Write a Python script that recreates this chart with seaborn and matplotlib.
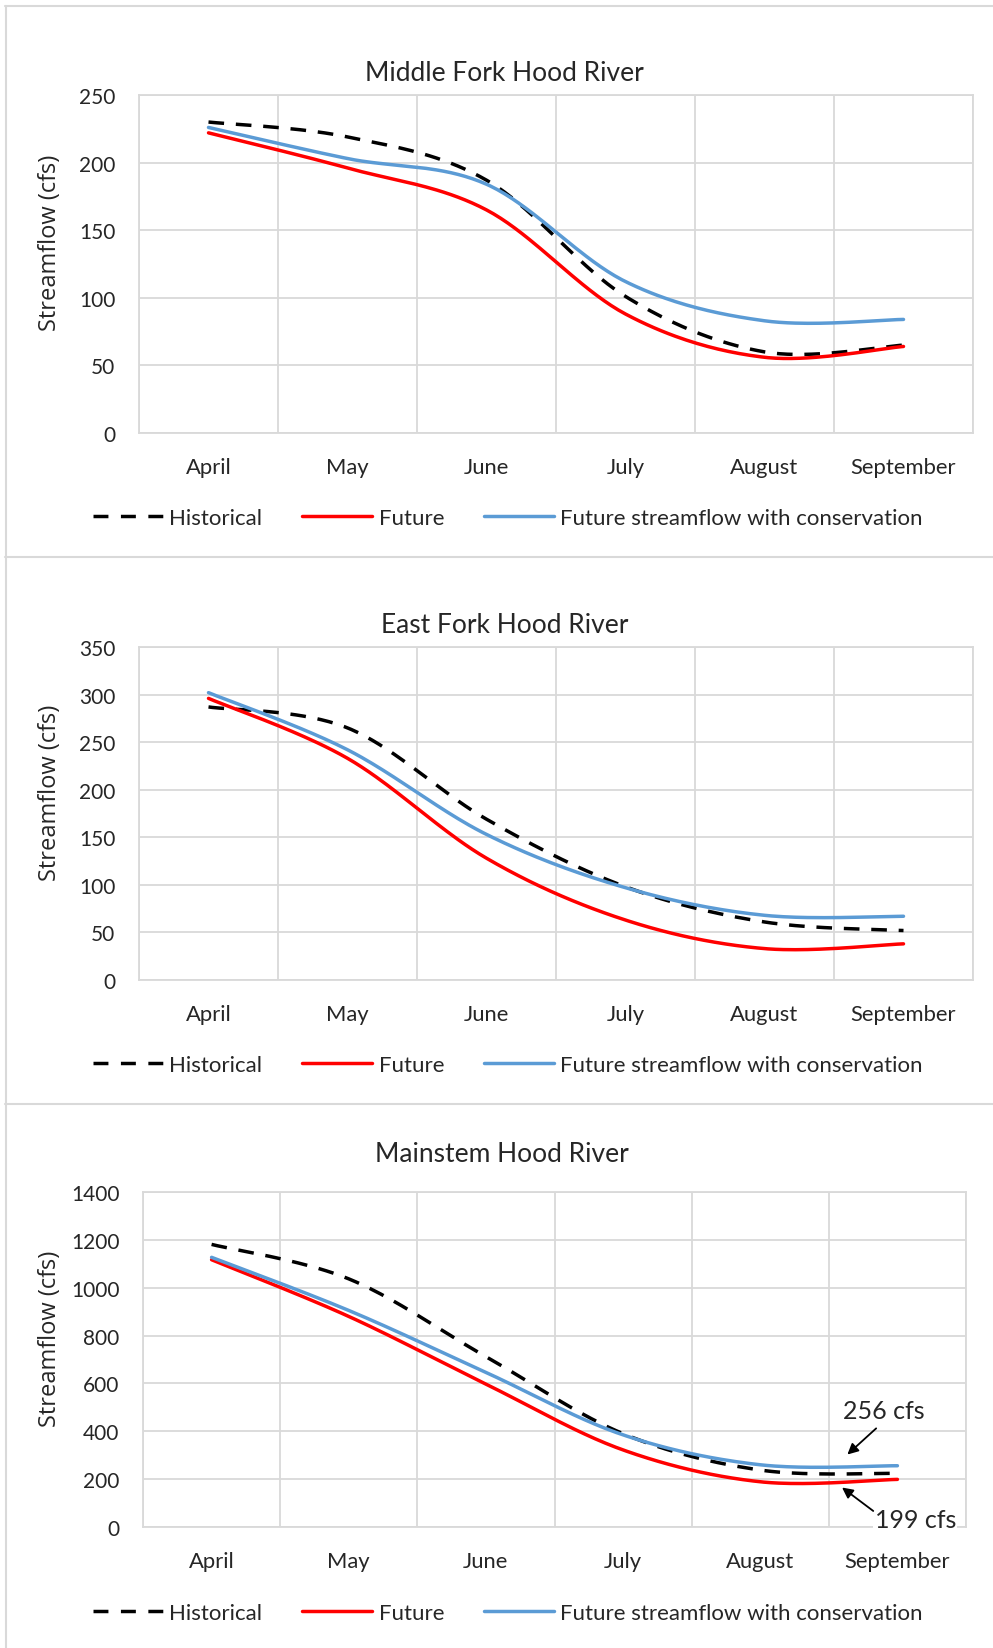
import numpy as np
import pandas as pd
import matplotlib.pyplot as plt
import seaborn as sns
from matplotlib.lines import Line2D

sns.set_style('white')
plt.rcParams['font.family'] = ['Lato', 'DejaVu Sans']

months = ['April', 'May', 'June', 'July', 'August', 'September']
series_names = ['Historical', 'Future', 'Future streamflow with conservation']

middle_hist = [230, 219, 187, 101, 60, 65]
middle_future = [222, 196, 165, 88, 56, 64]
middle_cons = [226, 203, 184, 112, 83, 84]

east_hist = [287, 265, 169, 98, 61, 52]
east_future = [296, 233, 128, 63, 33, 38]
east_cons = [302, 242, 153, 97, 68, 67]

main_hist = [1181, 1037, 712, 390, 238, 224]
main_future = [1117, 880, 597, 322, 189, 199]
main_cons = [1127, 905, 646, 385, 260, 256]

palette = {'Historical': 'black', 'Future': '#FF0000',
           'Future streamflow with conservation': '#5B9BD5'}
dashes = {'Historical': (4.5, 3.4), 'Future': '',
          'Future streamflow with conservation': ''}
GRID = '#D9D9D9'
W, H = 993, 1649


def smooth(values, n=40):
    """Excel style smoothed line (bezier through the monthly points)"""
    x = np.arange(len(values), dtype=float)
    y = np.asarray(values, dtype=float)
    pts = np.column_stack([x, y])
    pts = np.vstack([pts[0], pts, pts[-1]])
    t = np.linspace(0, 1, n)[:, None]
    out = []
    for i in range(len(values) - 1):
        p0, p3 = pts[i + 1], pts[i + 2]
        c1 = p0 + (pts[i + 2] - pts[i]) / 6
        c2 = p3 - (pts[i + 3] - pts[i + 1]) / 6
        seg = ((1 - t) ** 3) * p0 + 3 * ((1 - t) ** 2) * t * c1 + 3 * (1 - t) * t ** 2 * c2 + t ** 3 * p3
        out.append(seg if i == 0 else seg[1:])
    out = np.vstack(out)
    return out[:, 0], out[:, 1]


def draw_panel(rect, title, hist, future, cons, ymax, ystep, label_x, title_x, title_pad):
    ax = fig.add_axes(rect)
    frames = []
    for name, vals in zip(series_names, [hist, future, cons]):
        xs, ys = smooth(vals)
        frames.append(pd.DataFrame({'x': xs, 'y': ys, 'series': name}))
    df = pd.concat(frames, ignore_index=True)
    sns.lineplot(data=df, x='x', y='y', hue='series', style='series',
                 palette=palette, dashes=dashes, sort=False, estimator=None,
                 linewidth=2.5, legend=False, ax=ax)

    ax.set_xlim(-0.5, 5.5)
    ax.set_ylim(0, ymax)
    ax.set_xticks(range(len(months)))
    ax.set_xticklabels(months)
    ax.set_xticks(np.arange(-0.5, 6, 1), minor=True)
    ax.set_yticks(np.arange(0, ymax + 1, ystep))
    ax.tick_params(axis='both', which='both', length=0)
    ax.tick_params(axis='y', pad=17, labelsize=15)
    ax.tick_params(axis='x', pad=17, labelsize=15.8)
    ax.grid(which='minor', axis='x', color=GRID, lw=1.3)
    ax.grid(which='major', axis='y', color=GRID, lw=1.3)
    for s in ax.spines.values():
        s.set_color(GRID)
        s.set_linewidth(1.3)
    ax.set_xlabel('')
    ax.set_ylabel('Streamflow (cfs)', fontsize=17, family=['Open Sans', 'DejaVu Sans'])
    ax.yaxis.set_label_coords(label_x, 0.565)
    ax.set_title(title, fontsize=19, pad=title_pad, x=title_x)
    return ax


fig = plt.figure(figsize=(W / 100, H / 100), dpi=100)


def frac_rect(left, right, top, bottom):
    return [left / W, 1 - bottom / H, (right - left) / W, (bottom - top) / H]


ax1 = draw_panel(frac_rect(139, 973, 96, 434), 'Middle Fork Hood River',
                 middle_hist, middle_future, middle_cons, 250, 50, -0.092, 0.438, 11)
ax2 = draw_panel(frac_rect(139, 973, 648, 981), 'East Fork Hood River',
                 east_hist, east_future, east_cons, 350, 50, -0.092, 0.438, 11)
ax3 = draw_panel(frac_rect(143, 966, 1193, 1528), 'Mainstem Hood River',
                 main_hist, main_future, main_cons, 1400, 200, -0.098, 0.436, 22)

# annotations on the mainstem panel
ax3.text(4.9, 437, '256 cfs', fontsize=18, ha='center', va='bottom')
ax3.annotate('', xy=(4.62, 295), xytext=(4.86, 420),
             arrowprops=dict(arrowstyle='-|>', color='black', lw=1.3, mutation_scale=16))
ax3.text(5.13, 32, '199 cfs', fontsize=18, ha='center', va='center', clip_on=False,
         bbox=dict(facecolor='white', edgecolor='none', pad=1))
ax3.annotate('', xy=(4.58, 172), xytext=(4.84, 60),
             arrowprops=dict(arrowstyle='-|>', color='black', lw=1.3, mutation_scale=16))

# legends
handles = [Line2D([0], [0], color=palette[n], lw=2.5) for n in series_names]
handles[0].set_dashes((4.3, 3.6))
for y in [519, 1066, 1614]:
    fig.legend(handles, series_names, loc='center', bbox_to_anchor=(508 / W, 1 - y / H),
               ncol=3, frameon=False, fontsize=16, handlelength=3.15,
               handletextpad=0.28, columnspacing=1.8)

# panel borders
for y in [7, 558, 1105]:
    fig.add_artist(Line2D([5 / W, 1], [1 - y / H, 1 - y / H], color=GRID, lw=1.5))
fig.add_artist(Line2D([5.5 / W, 5.5 / W], [1 - 7 / H, 0], color=GRID, lw=1.5))

fig.savefig('out.png', dpi=100, facecolor='white')
